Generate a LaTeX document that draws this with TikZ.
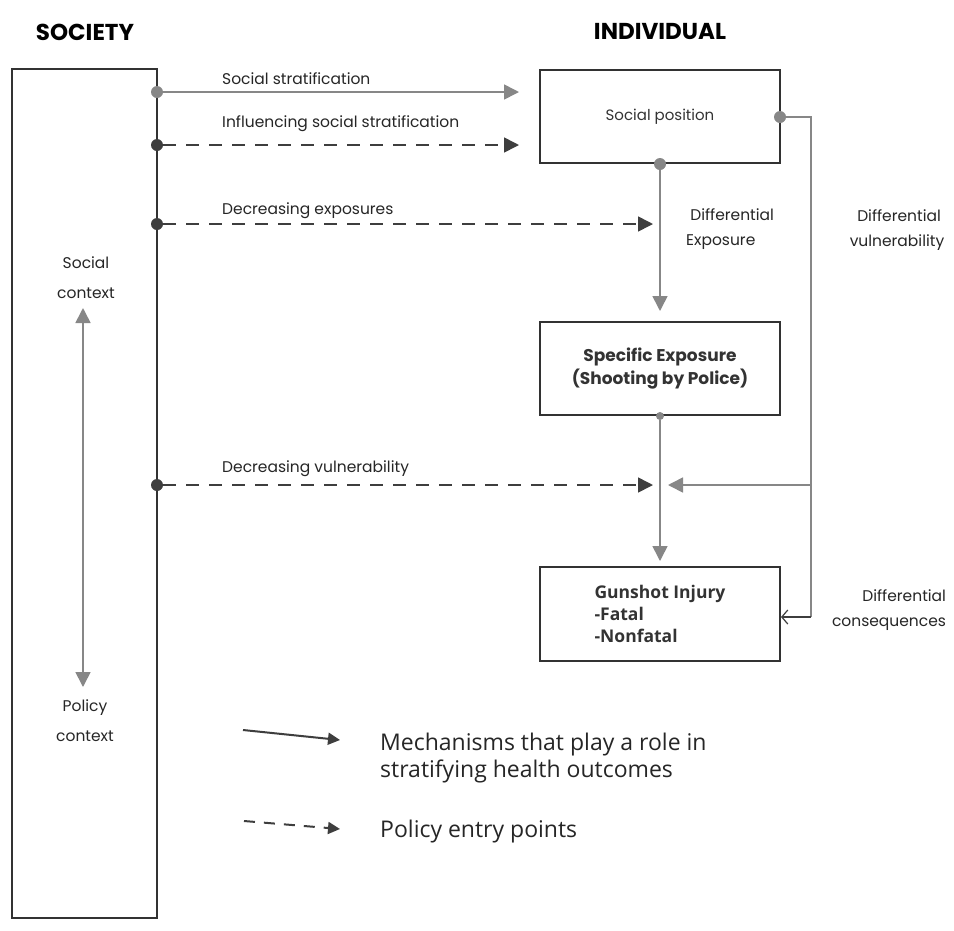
\documentclass[tikz,border=0pt]{standalone}
\usepackage{fontspec}
\setmainfont{Poppins}
\newfontfamily\legendfont{Open Sans}
\usetikzlibrary{arrows.meta}
\definecolor{lgray}{RGB}{135,135,135}
\definecolor{dgray}{RGB}{62,62,62}
\definecolor{boxc}{RGB}{50,50,50}
\begin{document}
\begin{tikzpicture}[x=1pt,y=-1pt,
  box/.style={draw=boxc,line width=2pt,minimum width=240pt,minimum height=93pt,align=center,inner sep=0pt,font=\fontsize{17}{23}\selectfont\bfseries,text=black!80},
  lab/.style={font=\fontsize{15.5}{25}\selectfont,text=black!85,inner sep=0pt,anchor=west},
  ctx/.style={font=\fontsize{15.5}{30}\selectfont,text=black!85,inner sep=0pt,align=center},
  hdr/.style={font=\fontsize{23}{26}\selectfont\bfseries,inner sep=0pt},
  gdot/.style={circle,fill=lgray,inner sep=0pt,minimum size=12pt},
  ddot/.style={circle,fill=dgray,inner sep=0pt,minimum size=12pt},
  mech/.style={draw=lgray,line width=1.6pt,-{Triangle[width=15pt,length=15pt]}},
  pol/.style={draw=dgray,line width=1.6pt,dash pattern=on 13pt off 10pt,-{Triangle[width=15pt,length=15pt]}},
  leg/.style={font=\legendfont\fontsize{23}{27}\selectfont,text=black!85,inner sep=0pt,anchor=west,align=left}
]
\useasboundingbox[fill=white] (0,0) rectangle (954,930);

% headers
\node[hdr] (hsoc) at (85,32) {SOCIETY};
\node[hdr] (hind) at (660,32) {INDIVIDUAL};

% society column
\node[draw=boxc,line width=2pt,minimum width=145pt,minimum height=849pt,inner sep=0pt] (soc) at (84.5,493.5) {};
\node[ctx] (sctx) at (86,278) {Social\\context};
\node[ctx] (pctx) at (85,721) {Policy\\context};
\coordinate (ct) at (83,308);
\coordinate (cbt) at (83,687);
\draw[draw=lgray,line width=1.6pt,{Triangle[width=15pt,length=15pt]}-{Triangle[width=15pt,length=15pt]}] (ct) -- (cbt);

% individual boxes
\node[box] (sp) at (660,116.5) {\mdseries\fontsize{15}{18}\selectfont Social position};
\node[box] (se) at (660,368.5) {Specific Exposure\\(Shooting by Police)};
\node[box,minimum height=94pt,align=left,font=\legendfont\bfseries\fontsize{17.5}{22}\selectfont] (gi) at (660,614) {Gunshot Injury\\-Fatal\\-Nonfatal};

% dots on society column
\node[gdot] (d1) at (157,92) {};
\node[ddot] (d2) at (157,145) {};
\node[ddot] (d3) at (157,224) {};
\node[ddot] (d4) at (157,485) {};
\node[gdot] (spb) at (sp.south) {};
\node[gdot] (spr) at (780,117) {};
\node[gdot,minimum size=8pt] (seb) at (se.south) {};

% free ends
\coordinate (xe) at (653,224);
\coordinate (xv) at (653,485);
\coordinate (vj) at (811,485);
\coordinate (cr) at (811,117);
\coordinate (cb) at (811,617);
\coordinate (vt) at (668,485);

% society -> individual arrows
\draw[mech] (d1) -- ([xshift=-20pt]sp.west |- d1);
\node[lab] (l1) at (222,79) {Social stratification};
\draw[pol] (d2) -- ([xshift=-20pt]sp.west |- d2);
\node[lab] (l2) at (222,124) {Influencing social stratification};
\draw[pol] (d3) -- (xe);
\node[lab] (l3) at (222,211) {Decreasing exposures};
\draw[pol] (d4) -- (xv);
\node[lab] (l4) at (222,469) {Decreasing vulnerability};

% vertical mechanisms
\draw[mech,shorten >=10pt] (spb) -- (se.north);
\node[lab,align=left] (lde) at (686,229) {\ Differential\\Exposure};
\draw[mech,shorten >=5pt] (seb) -- (gi.north);

% right-hand loop
\draw[draw=lgray,line width=1.6pt] (spr) -- (cr) -- (cb);
\draw[mech] (vj) -- (vt);
\draw[draw=dgray,line width=1.2pt,-{Straight Barb[width=14pt,length=6pt]}] (cb) -- (gi.east |- cb);
\node[lab,anchor=center,align=center] (ldv) at (897,230) {\ Differential\\vulnerability};
\node[lab,anchor=center,align=right] (ldc) at (889,610) {Differential\\consequences};

% legend
\coordinate (ls1) at (243,730);
\coordinate (le1) at (340,740);
\coordinate (ls2) at (244,821);
\coordinate (le2) at (340,829);
\draw[draw=dgray,line width=2pt,-{Triangle[width=12pt,length=12pt]}] (ls1) -- (le1);
\draw[draw=dgray,line width=2pt,dash pattern=on 11pt off 9pt,-{Triangle[width=12pt,length=12pt]}] (ls2) -- (le2);
\node[leg] (lg1) at (380,758) {Mechanisms that play a role in\\stratifying health outcomes};
\node[leg] (lg2) at (380,832) {Policy entry points};
\end{tikzpicture}
\end{document}
